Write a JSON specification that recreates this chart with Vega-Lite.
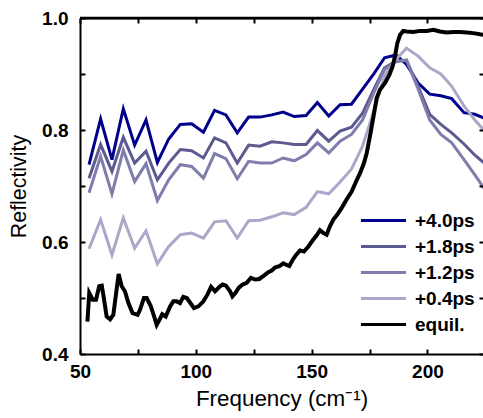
{
  "$schema": "https://vega.github.io/schema/vega-lite/v6.json",
  "autosize": {"type": "none"},
  "padding": {"left": 80, "top": 18, "right": 0, "bottom": 64},
  "width": 403,
  "height": 336,
  "background": "white",
  "config": {
    "view": {"stroke": null},
    "font": "Liberation Sans",
    "axis": {
      "domainColor": "black", "domainWidth": 2, "tickColor": "black", "tickWidth": 2,
      "labelFont": "Liberation Sans", "labelFontWeight": "bold", "labelFontSize": 19, "labelColor": "black",
      "titleFont": "Liberation Sans", "titleFontWeight": "normal", "titleColor": "black",
      "grid": false
    }
  },
  "datasets": {
    "curves": [
      {"series": "+4.0ps", "f": 53.9, "r": 0.738}, {"series": "+4.0ps", "f": 58.9, "r": 0.820}, {"series": "+4.0ps", "f": 63.8, "r": 0.747}, {"series": "+4.0ps", "f": 68.7, "r": 0.838}, {"series": "+4.0ps", "f": 73.6, "r": 0.773}, {"series": "+4.0ps", "f": 78.5, "r": 0.818}, {"series": "+4.0ps", "f": 83.4, "r": 0.742}, {"series": "+4.0ps", "f": 88.3, "r": 0.784}, {"series": "+4.0ps", "f": 93.3, "r": 0.810}, {"series": "+4.0ps", "f": 98.2, "r": 0.811}, {"series": "+4.0ps", "f": 103.3, "r": 0.796}, {"series": "+4.0ps", "f": 108.1, "r": 0.835}, {"series": "+4.0ps", "f": 113.0, "r": 0.827}, {"series": "+4.0ps", "f": 117.9, "r": 0.795}, {"series": "+4.0ps", "f": 122.8, "r": 0.823}, {"series": "+4.0ps", "f": 127.7, "r": 0.823}, {"series": "+4.0ps", "f": 132.8, "r": 0.827}, {"series": "+4.0ps", "f": 137.7, "r": 0.832}, {"series": "+4.0ps", "f": 142.5, "r": 0.824}, {"series": "+4.0ps", "f": 147.6, "r": 0.826}, {"series": "+4.0ps", "f": 152.5, "r": 0.849}, {"series": "+4.0ps", "f": 157.4, "r": 0.825}, {"series": "+4.0ps", "f": 162.3, "r": 0.845}, {"series": "+4.0ps", "f": 167.2, "r": 0.846}, {"series": "+4.0ps", "f": 172.0, "r": 0.873}, {"series": "+4.0ps", "f": 177.0, "r": 0.901}, {"series": "+4.0ps", "f": 181.5, "r": 0.929}, {"series": "+4.0ps", "f": 186.4, "r": 0.934}, {"series": "+4.0ps", "f": 191.0, "r": 0.917}, {"series": "+4.0ps", "f": 196.0, "r": 0.884}, {"series": "+4.0ps", "f": 201.0, "r": 0.864}, {"series": "+4.0ps", "f": 205.8, "r": 0.861}, {"series": "+4.0ps", "f": 210.5, "r": 0.856}, {"series": "+4.0ps", "f": 215.8, "r": 0.831}, {"series": "+4.0ps", "f": 220.5, "r": 0.828}, {"series": "+4.0ps", "f": 225.4, "r": 0.820},
      {"series": "+1.8ps", "f": 53.9, "r": 0.714}, {"series": "+1.8ps", "f": 58.9, "r": 0.774}, {"series": "+1.8ps", "f": 63.8, "r": 0.726}, {"series": "+1.8ps", "f": 68.7, "r": 0.787}, {"series": "+1.8ps", "f": 73.6, "r": 0.741}, {"series": "+1.8ps", "f": 78.5, "r": 0.762}, {"series": "+1.8ps", "f": 83.4, "r": 0.711}, {"series": "+1.8ps", "f": 88.3, "r": 0.741}, {"series": "+1.8ps", "f": 93.3, "r": 0.765}, {"series": "+1.8ps", "f": 98.2, "r": 0.763}, {"series": "+1.8ps", "f": 103.3, "r": 0.750}, {"series": "+1.8ps", "f": 108.1, "r": 0.786}, {"series": "+1.8ps", "f": 113.0, "r": 0.777}, {"series": "+1.8ps", "f": 117.9, "r": 0.741}, {"series": "+1.8ps", "f": 122.8, "r": 0.773}, {"series": "+1.8ps", "f": 127.7, "r": 0.771}, {"series": "+1.8ps", "f": 132.8, "r": 0.779}, {"series": "+1.8ps", "f": 137.7, "r": 0.777}, {"series": "+1.8ps", "f": 142.5, "r": 0.774}, {"series": "+1.8ps", "f": 147.6, "r": 0.774}, {"series": "+1.8ps", "f": 152.5, "r": 0.799}, {"series": "+1.8ps", "f": 157.4, "r": 0.780}, {"series": "+1.8ps", "f": 162.3, "r": 0.798}, {"series": "+1.8ps", "f": 167.2, "r": 0.805}, {"series": "+1.8ps", "f": 172.0, "r": 0.830}, {"series": "+1.8ps", "f": 177.0, "r": 0.874}, {"series": "+1.8ps", "f": 181.5, "r": 0.911}, {"series": "+1.8ps", "f": 186.4, "r": 0.923}, {"series": "+1.8ps", "f": 191.0, "r": 0.924}, {"series": "+1.8ps", "f": 196.0, "r": 0.878}, {"series": "+1.8ps", "f": 201.0, "r": 0.828}, {"series": "+1.8ps", "f": 205.8, "r": 0.810}, {"series": "+1.8ps", "f": 210.5, "r": 0.795}, {"series": "+1.8ps", "f": 215.8, "r": 0.775}, {"series": "+1.8ps", "f": 220.5, "r": 0.755}, {"series": "+1.8ps", "f": 225.4, "r": 0.738},
      {"series": "+1.2ps", "f": 53.9, "r": 0.688}, {"series": "+1.2ps", "f": 58.9, "r": 0.753}, {"series": "+1.2ps", "f": 63.8, "r": 0.686}, {"series": "+1.2ps", "f": 68.7, "r": 0.764}, {"series": "+1.2ps", "f": 73.6, "r": 0.708}, {"series": "+1.2ps", "f": 78.5, "r": 0.740}, {"series": "+1.2ps", "f": 83.4, "r": 0.674}, {"series": "+1.2ps", "f": 88.3, "r": 0.711}, {"series": "+1.2ps", "f": 93.3, "r": 0.738}, {"series": "+1.2ps", "f": 98.2, "r": 0.735}, {"series": "+1.2ps", "f": 103.3, "r": 0.714}, {"series": "+1.2ps", "f": 108.1, "r": 0.758}, {"series": "+1.2ps", "f": 113.0, "r": 0.749}, {"series": "+1.2ps", "f": 117.9, "r": 0.713}, {"series": "+1.2ps", "f": 122.8, "r": 0.744}, {"series": "+1.2ps", "f": 127.7, "r": 0.741}, {"series": "+1.2ps", "f": 132.8, "r": 0.741}, {"series": "+1.2ps", "f": 137.7, "r": 0.750}, {"series": "+1.2ps", "f": 142.5, "r": 0.745}, {"series": "+1.2ps", "f": 147.6, "r": 0.756}, {"series": "+1.2ps", "f": 152.5, "r": 0.777}, {"series": "+1.2ps", "f": 157.4, "r": 0.759}, {"series": "+1.2ps", "f": 162.3, "r": 0.780}, {"series": "+1.2ps", "f": 167.2, "r": 0.792}, {"series": "+1.2ps", "f": 172.0, "r": 0.818}, {"series": "+1.2ps", "f": 177.0, "r": 0.868}, {"series": "+1.2ps", "f": 181.5, "r": 0.908}, {"series": "+1.2ps", "f": 186.4, "r": 0.922}, {"series": "+1.2ps", "f": 191.0, "r": 0.925}, {"series": "+1.2ps", "f": 196.0, "r": 0.873}, {"series": "+1.2ps", "f": 201.0, "r": 0.818}, {"series": "+1.2ps", "f": 205.8, "r": 0.792}, {"series": "+1.2ps", "f": 210.5, "r": 0.777}, {"series": "+1.2ps", "f": 215.8, "r": 0.747}, {"series": "+1.2ps", "f": 220.5, "r": 0.720}, {"series": "+1.2ps", "f": 225.4, "r": 0.690},
      {"series": "+0.4ps", "f": 53.9, "r": 0.588}, {"series": "+0.4ps", "f": 58.9, "r": 0.640}, {"series": "+0.4ps", "f": 63.8, "r": 0.577}, {"series": "+0.4ps", "f": 68.7, "r": 0.643}, {"series": "+0.4ps", "f": 73.6, "r": 0.589}, {"series": "+0.4ps", "f": 78.5, "r": 0.620}, {"series": "+0.4ps", "f": 83.4, "r": 0.561}, {"series": "+0.4ps", "f": 88.3, "r": 0.592}, {"series": "+0.4ps", "f": 93.3, "r": 0.613}, {"series": "+0.4ps", "f": 98.2, "r": 0.616}, {"series": "+0.4ps", "f": 103.3, "r": 0.607}, {"series": "+0.4ps", "f": 108.1, "r": 0.636}, {"series": "+0.4ps", "f": 113.0, "r": 0.638}, {"series": "+0.4ps", "f": 117.9, "r": 0.607}, {"series": "+0.4ps", "f": 122.8, "r": 0.638}, {"series": "+0.4ps", "f": 127.7, "r": 0.639}, {"series": "+0.4ps", "f": 132.8, "r": 0.645}, {"series": "+0.4ps", "f": 137.7, "r": 0.652}, {"series": "+0.4ps", "f": 142.5, "r": 0.649}, {"series": "+0.4ps", "f": 147.6, "r": 0.662}, {"series": "+0.4ps", "f": 152.5, "r": 0.690}, {"series": "+0.4ps", "f": 157.4, "r": 0.686}, {"series": "+0.4ps", "f": 162.3, "r": 0.707}, {"series": "+0.4ps", "f": 167.2, "r": 0.730}, {"series": "+0.4ps", "f": 172.0, "r": 0.771}, {"series": "+0.4ps", "f": 177.0, "r": 0.836}, {"series": "+0.4ps", "f": 181.5, "r": 0.896}, {"series": "+0.4ps", "f": 186.4, "r": 0.926}, {"series": "+0.4ps", "f": 191.0, "r": 0.946}, {"series": "+0.4ps", "f": 196.0, "r": 0.932}, {"series": "+0.4ps", "f": 201.0, "r": 0.911}, {"series": "+0.4ps", "f": 205.8, "r": 0.900}, {"series": "+0.4ps", "f": 210.5, "r": 0.878}, {"series": "+0.4ps", "f": 215.8, "r": 0.843}, {"series": "+0.4ps", "f": 220.5, "r": 0.818}, {"series": "+0.4ps", "f": 225.4, "r": 0.795}
    ],
    "equil": [
      {"series": "equil.", "f": 53.2, "r": 0.458}, {"series": "equil.", "f": 54.0, "r": 0.509}, {"series": "equil.", "f": 55.5, "r": 0.497}, {"series": "equil.", "f": 56.9, "r": 0.497}, {"series": "equil.", "f": 58.3, "r": 0.521}, {"series": "equil.", "f": 59.4, "r": 0.522}, {"series": "equil.", "f": 60.4, "r": 0.497}, {"series": "equil.", "f": 61.5, "r": 0.467}, {"series": "equil.", "f": 63.0, "r": 0.462}, {"series": "equil.", "f": 64.4, "r": 0.470}, {"series": "equil.", "f": 65.8, "r": 0.515}, {"series": "equil.", "f": 66.7, "r": 0.543}, {"series": "equil.", "f": 68.0, "r": 0.521}, {"series": "equil.", "f": 69.4, "r": 0.512}, {"series": "equil.", "f": 70.9, "r": 0.491}, {"series": "equil.", "f": 72.7, "r": 0.473}, {"series": "equil.", "f": 74.9, "r": 0.470}, {"series": "equil.", "f": 75.9, "r": 0.479}, {"series": "equil.", "f": 77.6, "r": 0.500}, {"series": "equil.", "f": 78.8, "r": 0.500}, {"series": "equil.", "f": 80.5, "r": 0.486}, {"series": "equil.", "f": 82.0, "r": 0.467}, {"series": "equil.", "f": 83.1, "r": 0.452}, {"series": "equil.", "f": 84.3, "r": 0.461}, {"series": "equil.", "f": 85.5, "r": 0.471}, {"series": "equil.", "f": 87.0, "r": 0.467}, {"series": "equil.", "f": 88.9, "r": 0.485}, {"series": "equil.", "f": 90.3, "r": 0.494}, {"series": "equil.", "f": 91.7, "r": 0.494}, {"series": "equil.", "f": 93.2, "r": 0.491}, {"series": "equil.", "f": 94.6, "r": 0.502}, {"series": "equil.", "f": 96.1, "r": 0.500}, {"series": "equil.", "f": 97.5, "r": 0.492}, {"series": "equil.", "f": 99.2, "r": 0.482}, {"series": "equil.", "f": 101.1, "r": 0.485}, {"series": "equil.", "f": 103.3, "r": 0.494}, {"series": "equil.", "f": 105.0, "r": 0.506}, {"series": "equil.", "f": 106.6, "r": 0.520}, {"series": "equil.", "f": 108.3, "r": 0.512}, {"series": "equil.", "f": 110.2, "r": 0.520}, {"series": "equil.", "f": 111.6, "r": 0.524}, {"series": "equil.", "f": 113.0, "r": 0.522}, {"series": "equil.", "f": 114.8, "r": 0.512}, {"series": "equil.", "f": 115.8, "r": 0.503}, {"series": "equil.", "f": 117.1, "r": 0.509}, {"series": "equil.", "f": 118.5, "r": 0.518}, {"series": "equil.", "f": 120.2, "r": 0.524}, {"series": "equil.", "f": 122.0, "r": 0.527}, {"series": "equil.", "f": 123.8, "r": 0.536}, {"series": "equil.", "f": 125.6, "r": 0.533}, {"series": "equil.", "f": 127.4, "r": 0.534}, {"series": "equil.", "f": 129.4, "r": 0.540}, {"series": "equil.", "f": 131.3, "r": 0.546}, {"series": "equil.", "f": 132.8, "r": 0.549}, {"series": "equil.", "f": 134.3, "r": 0.555}, {"series": "equil.", "f": 136.1, "r": 0.557}, {"series": "equil.", "f": 137.8, "r": 0.562}, {"series": "equil.", "f": 139.2, "r": 0.559}, {"series": "equil.", "f": 140.4, "r": 0.557}, {"series": "equil.", "f": 141.8, "r": 0.568}, {"series": "equil.", "f": 143.3, "r": 0.577}, {"series": "equil.", "f": 145.0, "r": 0.585}, {"series": "equil.", "f": 146.7, "r": 0.583}, {"series": "equil.", "f": 148.6, "r": 0.592}, {"series": "equil.", "f": 150.5, "r": 0.603}, {"series": "equil.", "f": 152.2, "r": 0.612}, {"series": "equil.", "f": 153.6, "r": 0.621}, {"series": "equil.", "f": 155.1, "r": 0.616}, {"series": "equil.", "f": 156.5, "r": 0.613}, {"series": "equil.", "f": 157.9, "r": 0.628}, {"series": "equil.", "f": 159.4, "r": 0.640}, {"series": "equil.", "f": 161.1, "r": 0.649}, {"series": "equil.", "f": 163.0, "r": 0.661}, {"series": "equil.", "f": 165.1, "r": 0.676}, {"series": "equil.", "f": 167.3, "r": 0.690}, {"series": "equil.", "f": 169.2, "r": 0.708}, {"series": "equil.", "f": 170.9, "r": 0.723}, {"series": "equil.", "f": 172.6, "r": 0.741}, {"series": "equil.", "f": 173.8, "r": 0.759}, {"series": "equil.", "f": 175.2, "r": 0.789}, {"series": "equil.", "f": 176.7, "r": 0.824}, {"series": "equil.", "f": 178.1, "r": 0.857}, {"series": "equil.", "f": 179.5, "r": 0.872}, {"series": "equil.", "f": 181.7, "r": 0.884}, {"series": "equil.", "f": 183.6, "r": 0.899}, {"series": "equil.", "f": 185.0, "r": 0.914}, {"series": "equil.", "f": 186.0, "r": 0.932}, {"series": "equil.", "f": 187.0, "r": 0.955}, {"series": "equil.", "f": 188.2, "r": 0.970}, {"series": "equil.", "f": 189.6, "r": 0.977}, {"series": "equil.", "f": 191.0, "r": 0.976}, {"series": "equil.", "f": 193.9, "r": 0.975}, {"series": "equil.", "f": 196.8, "r": 0.977}, {"series": "equil.", "f": 199.7, "r": 0.977}, {"series": "equil.", "f": 202.6, "r": 0.979}, {"series": "equil.", "f": 205.4, "r": 0.976}, {"series": "equil.", "f": 208.3, "r": 0.974}, {"series": "equil.", "f": 211.2, "r": 0.975}, {"series": "equil.", "f": 214.1, "r": 0.975}, {"series": "equil.", "f": 217.0, "r": 0.974}, {"series": "equil.", "f": 219.8, "r": 0.973}, {"series": "equil.", "f": 222.7, "r": 0.971}, {"series": "equil.", "f": 224.5, "r": 0.970}
    ],
    "frame": [{"edge": 1.0}]
  },
  "layer": [
    {
      "data": {"name": "curves"},
      "mark": {"type": "line", "strokeWidth": 3, "clip": true},
      "encoding": {
        "x": {"field": "f", "type": "quantitative", "scale": {"domain": [50, 224], "nice": false, "zero": false},
          "axis": {"orient": "bottom", "values": [50, 75, 100, 125, 150, 175, 200], "labelExpr": "datum.value % 50 === 0 ? datum.label : ''", "tickSize": -5, "labelPadding": 13, "labelFlush": false, "title": "Frequency (cm⁻¹)", "titleFontSize": 22.4, "titlePadding": 6, "zindex": 1}},
        "y": {"field": "r", "type": "quantitative", "scale": {"domain": [0.4, 1.0], "nice": false, "zero": false},
          "axis": {"orient": "left", "values": [0.4, 0.5, 0.6, 0.7, 0.8, 0.9, 1.0], "format": ".1f", "labelExpr": "(round(datum.value*10) % 2 === 0) ? datum.label : ''", "tickSize": -5, "labelPadding": 17, "labelFlush": false, "title": "Reflectivity", "titleFontSize": 21.4, "titlePadding": 12, "zindex": 1}},
        "color": {"field": "series", "type": "nominal",
          "scale": {"domain": ["+4.0ps", "+1.8ps", "+1.2ps", "+0.4ps", "equil."], "range": ["#00008c", "#5c5a8e", "#7f7dab", "#aaa8c8", "#000000"]},
          "legend": {"orient": "none", "legendX": 294, "legendY": 193, "title": null, "symbolType": "M-4,0H4", "symbolSize": 127, "symbolStrokeWidth": 3.2, "labelFont": "Liberation Sans", "labelFontWeight": "bold", "labelFontSize": 19, "labelColor": "black", "labelOffset": 22, "rowPadding": 6, "padding": 0}}
      }
    },
    {
      "data": {"name": "equil"},
      "mark": {"type": "line", "strokeWidth": 4, "clip": true},
      "encoding": {
        "x": {"field": "f", "type": "quantitative",
          "axis": {"orient": "top", "values": [50, 75, 100, 125, 150, 175, 200], "labels": false, "tickSize": -5, "title": null, "zindex": 1}},
        "y": {"field": "r", "type": "quantitative",
          "axis": {"orient": "right", "values": [0.4, 0.5, 0.6, 0.7, 0.8, 0.9, 1.0], "labels": false, "domain": false, "tickSize": -4, "title": null, "zindex": 1}},
        "color": {"field": "series", "type": "nominal"}
      }
    },
    {
      "data": {"name": "frame"},
      "mark": {"type": "rule", "color": "black", "strokeWidth": 2.5},
      "encoding": {
        "y": {"field": "edge", "type": "quantitative", "axis": null}
      }
    }
  ],
  "resolve": {"axis": {"x": "independent", "y": "independent"}}
}
